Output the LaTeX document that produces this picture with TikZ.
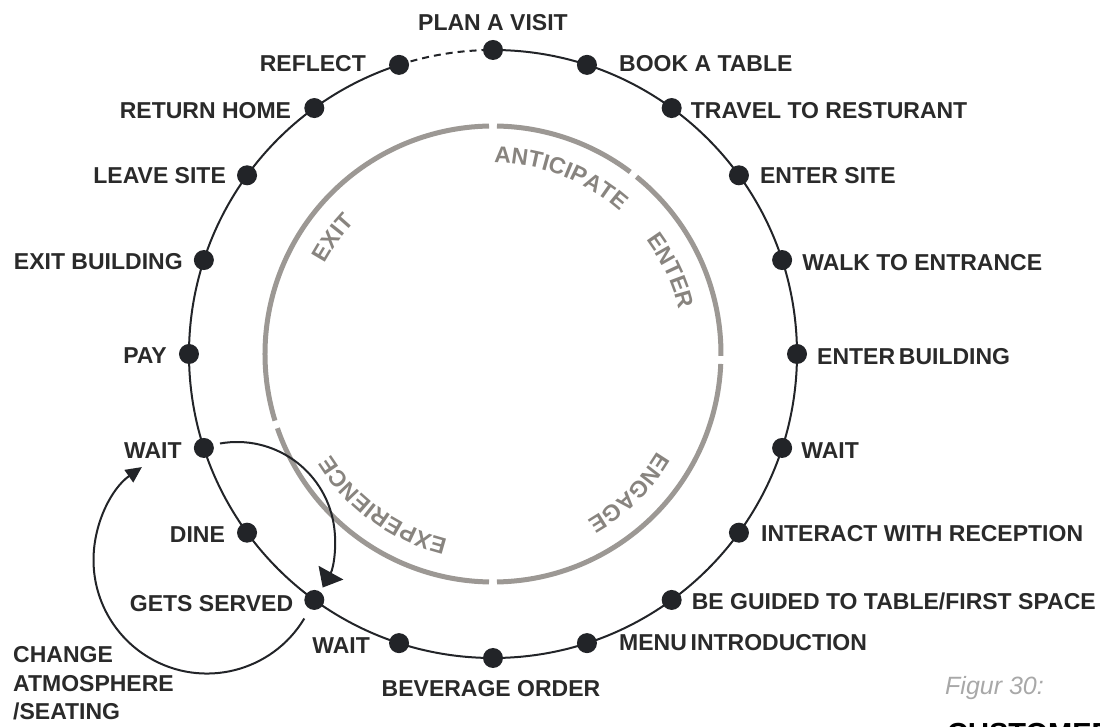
\documentclass[tikz,border=0pt]{standalone}
\usepackage{fontspec}
\setmainfont{Liberation Sans}
\usetikzlibrary{arrows.meta}
\definecolor{dk}{HTML}{222428}
\definecolor{labc}{HTML}{2A2A2A}
\definecolor{ringc}{HTML}{9C9894}
\definecolor{ringtxt}{HTML}{88847F}
\definecolor{figc}{HTML}{A8A8A8}
\newcommand\ringfont{\fontsize{23}{24}\selectfont\bfseries}
\def\ringR{191}
% letters set one by one along the inner ring, reading clockwise, tops outward
\newcommand\ringtext[2]{%
  \begingroup
  \ringfont
  \xdef\rtw{0}%
  \foreach \c in {#2}{\pgfmathsetmacro\cw{width("\c")}\xdef\rtw{\rtw+\cw}}%
  \pgfmathsetmacro\ang{#1+(\rtw)/2/\ringR*180/pi}%
  \xdef\curang{\ang}%
  \foreach \c in {#2}{%
    \pgfmathsetmacro\cw{width("\c")}%
    \pgfmathsetmacro\ca{\curang-\cw/2/\ringR*180/pi}%
    \node[ringch,rotate=\ca-90] at (\ca:\ringR) {\c};
    \pgfmathsetmacro\na{\curang-\cw/\ringR*180/pi}%
    \xdef\curang{\na}%
  }%
  \endgroup
}
\begin{document}
\begin{tikzpicture}[x=1pt,y=1pt,
  dot/.style={circle,fill=dk,inner sep=0pt,minimum size=20pt},
  lab/.style={font=\fontsize{23}{28.5}\selectfont\bfseries,text=labc,inner sep=0pt,text height=16.5pt,text depth=0pt},
  ringch/.style={font=\ringfont,text=ringtxt,inner sep=0pt,anchor=base},
  ring/.style={draw=ringc,line width=5pt},
  track/.style={draw=dk,line width=2pt},
  loopa/.style={draw=dk,line width=2pt,-{Triangle[length=17pt,width=28pt]}},
  loopb/.style={draw=dk,line width=2pt,-{Triangle[length=16pt,width=15pt]}}
]
\useasboundingbox (-493,-373) rectangle (607,354);
\clip (-493,-373) rectangle (607,354);

% inner phase ring
\draw[ring] (89:228) arc[start angle=89,end angle=53,radius=228pt];
\draw[ring] (51:228) arc[start angle=51,end angle=-0.5,radius=228pt];
\draw[ring] (-2.5:228) arc[start angle=-2.5,end angle=-89,radius=228pt];
\draw[ring] (-91:228) arc[start angle=-91,end angle=-161,radius=228pt];
\draw[ring] (-163:228) arc[start angle=-163,end angle=-269,radius=228pt];

\ringtext{69}{A,N,T,I,C,I,P,A,T,E}
\ringtext{25}{E,N,T,E,R}
\ringtext{-45.5}{E,N,G,A,G,E}
\ringtext{-126}{E,X,P,E,R,I,E,N,C,E}
\ringtext{144}{E,X,I,T}

% journey track
\draw[track] (90:304) arc[start angle=90,end angle=-252,radius=304pt];
\draw[track,dash pattern=on 7pt off 5pt] (108:304) arc[start angle=108,end angle=90,radius=304pt];

% loop arrows
\coordinate (ls1) at (-273,-89.5);
\draw[loopa] (ls1) arc[start angle=100,end angle=-29,radius=98pt];
\coordinate (ls2) at (-188.7,-264.5);
\draw[loopb] (ls2) arc[start angle=-31,end angle=-235,radius=113.5pt];

% dots
\foreach \a/\n in {90/plan,72/book,54/travel,36/entersite,18/walk,0/enterbuilding,
  -18/waitr,-36/interact,-54/guided,-72/menu,-90/beverage,-108/waitb,-126/served,
  -144/dine,-162/waitl,180/pay,162/exitbuilding,144/leavesite,126/returnhome,108/reflect}
  \node[dot] (\n) at (\a:304) {};

% labels
\node[lab] (tplan) at ([yshift=28pt]plan.center) {PLAN A VISIT};
\node[lab,anchor=west] (tbook) at ([xshift=32pt,yshift=2pt]book.center) {BOOK A TABLE};
\node[lab,anchor=west] (ttravel) at ([xshift=19pt,yshift=-2pt]travel.center) {TRAVEL TO RESTURANT};
\node[lab,anchor=west] (tentersite) at ([xshift=21pt]entersite.center) {ENTER SITE};
\node[lab,anchor=west] (twalk) at ([xshift=20pt,yshift=-2pt]walk.center) {WALK TO ENTRANCE};
\node[lab,anchor=west] (tenterbuilding) at ([xshift=20pt,yshift=-2.5pt]enterbuilding.center) {ENTER\,BUILDING};
\node[lab,anchor=west] (twaitr) at ([xshift=19pt,yshift=-2pt]waitr.center) {WAIT};
\node[lab,anchor=west] (tinteract) at ([xshift=22pt,yshift=-1pt]interact.center) {INTERACT WITH RECEPTION};
\node[lab,anchor=west] (tguided) at ([xshift=20pt,yshift=-1pt]guided.center) {BE GUIDED TO TABLE/FIRST SPACE};
\node[lab,anchor=west] (tmenu) at ([xshift=32pt,yshift=1pt]menu.center) {MENU\,INTRODUCTION};
\node[lab] (tbeverage) at ([xshift=-2pt,yshift=-30pt]beverage.center) {BEVERAGE ORDER};
\node[lab,anchor=east] (twaitb) at ([xshift=-29pt,yshift=-2pt]waitb.center) {WAIT};
\node[lab,anchor=east] (tserved) at ([xshift=-21pt,yshift=-3pt]served.center) {GETS SERVED};
\node[lab,anchor=east] (tdine) at ([xshift=-22pt,yshift=-2pt]dine.center) {DINE};
\node[lab,anchor=east] (twaitl) at ([xshift=-22pt,yshift=-2pt]waitl.center) {WAIT};
\node[lab,anchor=east] (tpay) at ([xshift=-22pt,yshift=-1pt]pay.center) {PAY};
\node[lab,anchor=east] (texitbuilding) at ([xshift=-21pt,yshift=-1pt]exitbuilding.center) {EXIT BUILDING};
\node[lab,anchor=east] (tleavesite) at ([xshift=-21pt]leavesite.center) {LEAVE SITE};
\node[lab,anchor=east] (treturnhome) at ([xshift=-23pt,yshift=-2pt]returnhome.center) {RETURN HOME};
\node[lab,anchor=east] (treflect) at ([xshift=-33pt,yshift=2pt]reflect.center) {REFLECT};

\node[font=\fontsize{23}{28.5}\selectfont\bfseries,text=labc,inner sep=0pt,anchor=north west,align=left]
  (tchange) at (-480,-292.5) {CHANGE\\ATMOSPHERE\\/SEATING};

\node[font=\fontsize{25}{28}\selectfont\itshape,text=figc,inner sep=0pt,anchor=base west] (tfig) at (452,-340) {Figur 30:};
\node[font=\fontsize{29}{32}\selectfont\bfseries,text=black,inner sep=0pt,anchor=base west] (tcust) at (454,-389) {CUSTOMER};
\end{tikzpicture}
\end{document}
